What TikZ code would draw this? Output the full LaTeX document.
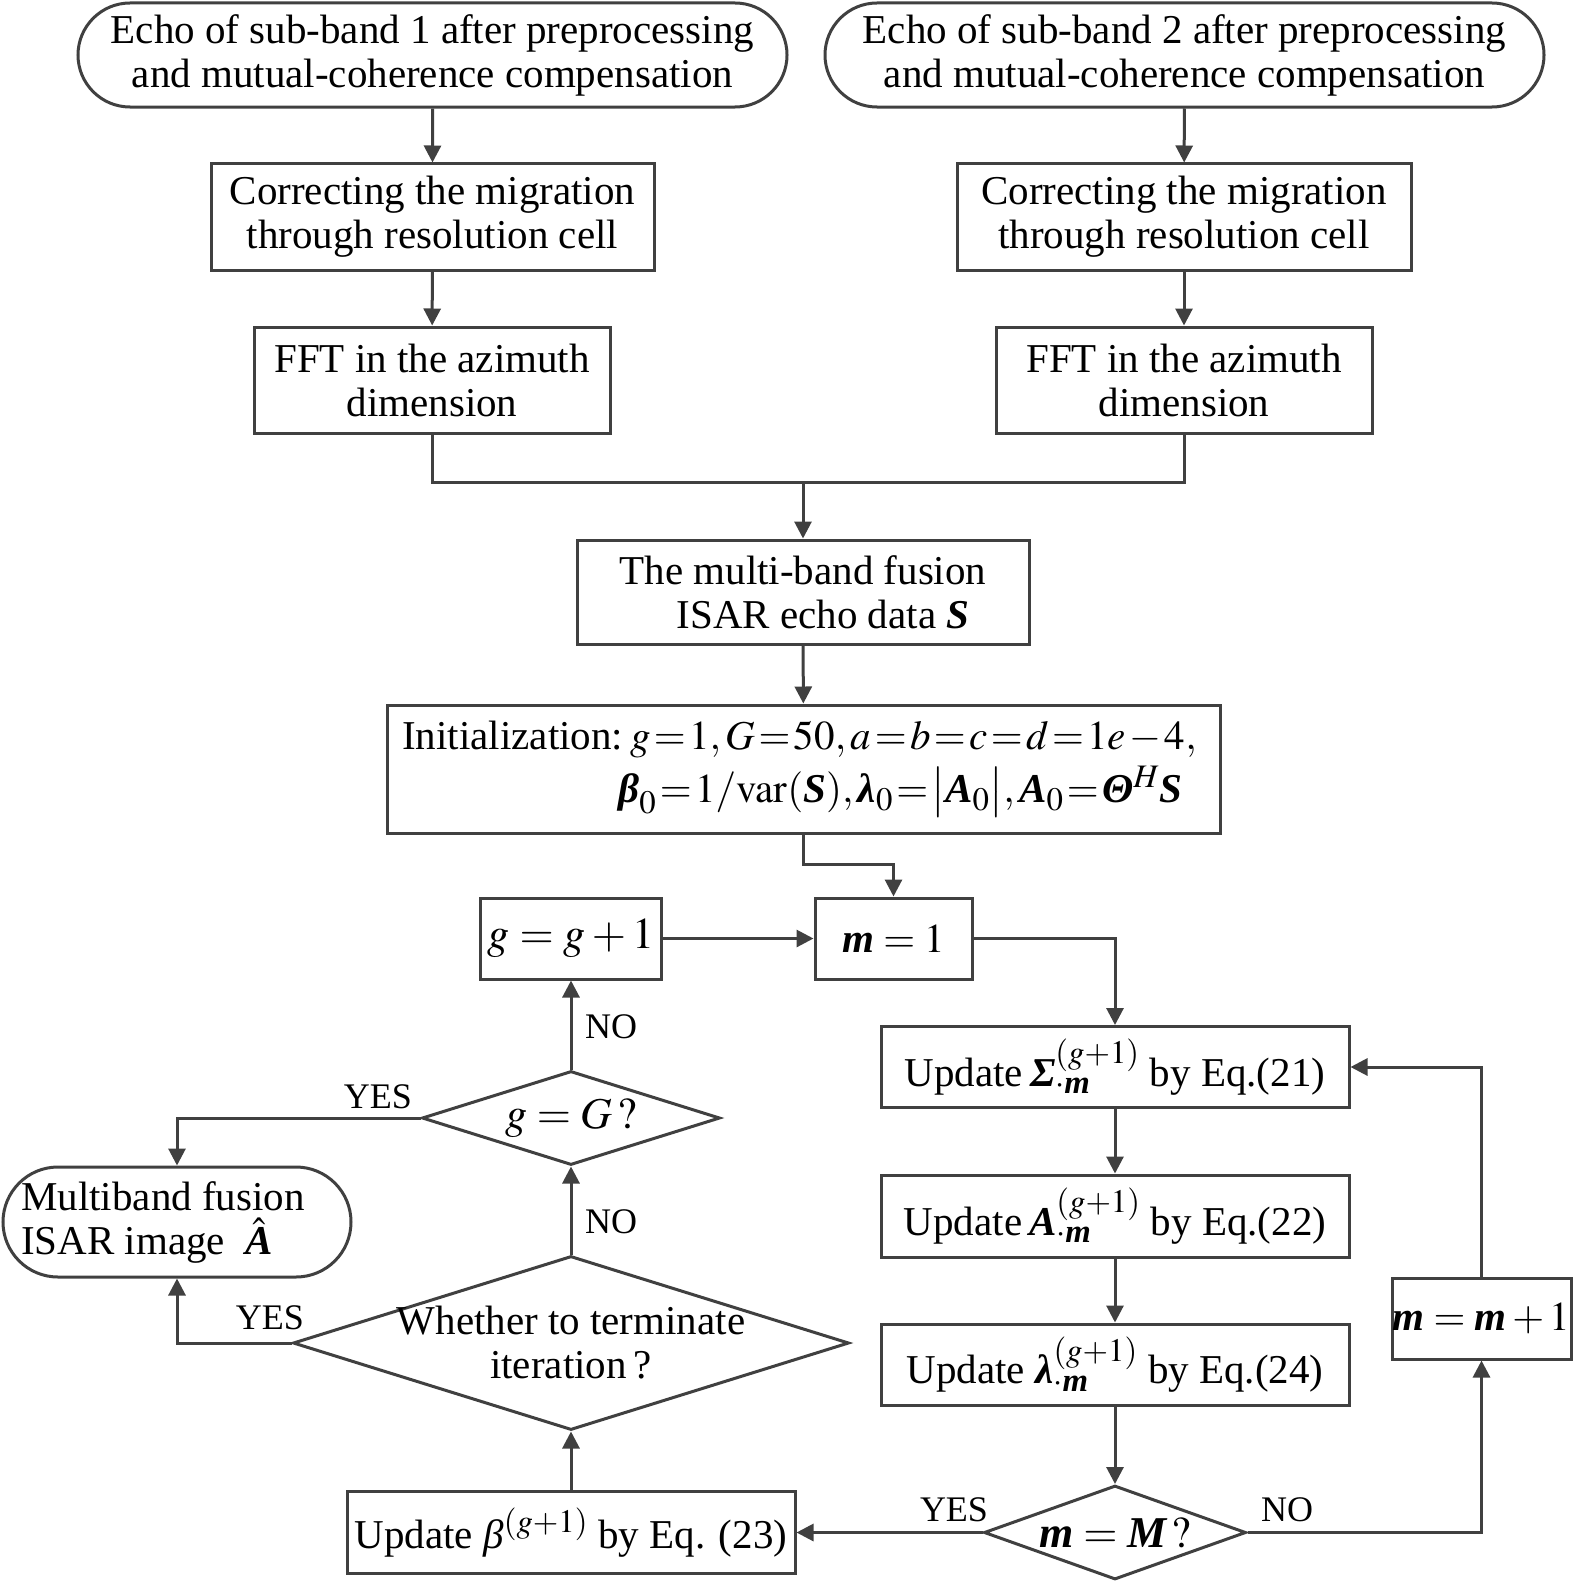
\documentclass[tikz,border=0pt]{standalone}
\usepackage{amsmath}
\usepackage{mathptmx}
\usepackage{fontspec}
\setmainfont{Liberation Serif}
\usetikzlibrary{shapes.geometric,shapes.misc,arrows.meta}
\definecolor{ln}{HTML}{404040}
\renewcommand{\defaultscriptratio}{.8}
\newcommand{\bfit}[1]{\text{\bfseries\itshape #1}}
\begin{document}
\begin{tikzpicture}[x=1bp,y=-1bp,line width=3bp,
  font=\fontsize{41bp}{44bp}\selectfont,
  box/.style={draw=ln,rectangle,inner sep=0pt,align=center},
  term/.style={draw=ln,rounded rectangle,inner sep=0pt,align=center},
  dia/.style={draw=ln,diamond,inner sep=0pt,aspect=1},
  arr/.style={draw=ln,-{Triangle[length=17bp,width=17bp]}},
  lab/.style={font=\fontsize{36bp}{40bp}\selectfont,inner sep=0pt},
  big/.style={font=\fontsize{44bp}{48bp}\selectfont}]
\useasboundingbox (0,0) rectangle (1576,1582);
% top branch
\node[term,minimum width=709bp,minimum height=104bp] (t1) at (432.5,55) {Echo of sub-band 1 after preprocessing\\and mutual-coherence compensation};
\node[term,minimum width=719bp,minimum height=104bp] (t2) at (1184.5,55) {Echo of sub-band 2 after preprocessing\\and mutual-coherence compensation};
\node[box,minimum width=443bp,minimum height=106bp] (c1) at (432.5,217) {Correcting the migration\\through resolution cell};
\node[box,minimum width=454bp,minimum height=106bp] (c2) at (1184,217) {Correcting the migration\\through resolution cell};
\node[box,minimum width=356bp,minimum height=106bp] (f1) at (432,380) {FFT in the azimuth\\dimension};
\node[box,minimum width=376bp,minimum height=106bp] (f2) at (1184,380) {FFT in the azimuth\\dimension};
\coordinate (merge) at (803,482);
\node[box,minimum width=452bp,minimum height=104bp] (fus) at (803,592) {The multi-band fusion\\\hspace*{40bp}ISAR echo data $\bfit{S}$};
\node[box,minimum width=833bp,minimum height=128bp,align=right,
  execute at begin node={\thickmuskip=1.5mu\medmuskip=1.5mu}] (init) at (803.5,769) {Initialization:\,$g=1,G=50,a=b=c=d=1e-4,$\hspace*{8bp}\\[8bp]$\bfit{β}_0=1/\mathrm{var}(\bfit{S}),\bfit{λ}_0=\bigl|\bfit{A}_0\bigr|,\bfit{A}_0=\bfit{Θ}^{H}\bfit{S}$\hspace*{22bp}};
% loop
\node[box,big,minimum width=181bp,minimum height=81bp] (gg) at (571,938.5) {$g=g+1$};
\node[box,minimum width=157bp,minimum height=81bp] (m1) at (893.5,938.5) {$\bfit{m}=1$};
\node[box,minimum width=468bp,minimum height=81bp] (us) at (1115,1067) {Update\,$\bfit{Σ}^{(g+1)}_{\cdot\bfit{m}}$ by Eq.(21)};
\node[box,minimum width=468bp,minimum height=82bp] (ua) at (1115,1216) {Update\,$\bfit{A}^{(g+1)}_{\cdot\bfit{m}}$ by Eq.(22)};
\node[box,minimum width=468bp,minimum height=81bp] (ul) at (1115,1364.5) {Update $\bfit{λ}^{(g+1)}_{\cdot\bfit{m}}$ by Eq.(24)};
\node[dia,minimum width=262bp,minimum height=94bp,label={[big]center:$\bfit{m}=\bfit{M}\,?$}] (mM) at (1115,1532.5) {};
\node[box,minimum width=179bp,minimum height=81bp] (mm1) at (1481.5,1318.5) {$\bfit{m}=\bfit{m}+1$};
\node[box,minimum width=448bp,minimum height=82bp] (ub) at (571,1532.5) {Update $\textit{β}^{(g+1)}$ by Eq. (23)};
\node[dia,minimum width=556bp,minimum height=174bp,label={[align=center]center:Whether to terminate\\iteration\,?}] (wt) at (571,1343) {};
\node[dia,minimum width=298bp,minimum height=94bp,label={[big]center:$g=G\,?$}] (gG) at (571,1118) {};
\node[term,minimum width=348bp,minimum height=110bp,label={[align=left,xshift=-14bp]center:Multiband fusion\\ISAR image\enspace$\hat{\bfit{A}}$}] (mb) at (177,1222) {};
% connectors
\draw[arr] (t1) -- (c1);
\draw[arr] (c1) -- (f1);
\draw[arr] (t2) -- (c2);
\draw[arr] (c2) -- (f2);
\draw[draw=ln] (f1.south) |- (merge) -| (f2.south);
\draw[arr] (merge) -- (fus.north);
\draw[arr] (fus) -- (init);
\draw[arr] (init.south) -- ++(0,30) -| (m1.north);
\draw[arr] (gg) -- (m1);
\draw[arr] (m1.east) -| (us.north);
\draw[arr] (us) -- (ua);
\draw[arr] (ua) -- (ul);
\draw[arr] (ul.south) -- (mM.north);
\draw[arr] (mM.east) -| (mm1.south);
\draw[arr] (mm1.north) |- (us.east);
\draw[arr] (mM.west) -- (ub.east);
\draw[arr] (ub.north) -- (wt.south);
\draw[arr] (wt.north) -- (gG.south);
\draw[arr] (gG.north) -- (gg.south);
\draw[arr] (gG.west) -| (mb.north);
\draw[arr] (wt.west) -| (mb.south);
% labels
\node[lab] (l1) at (611,1027) {NO};
\node[lab] (l2) at (378,1097) {YES};
\node[lab] (l3) at (611,1222) {NO};
\node[lab] (l4) at (270,1318) {YES};
\node[lab] (l5) at (954,1510) {YES};
\node[lab] (l6) at (1287,1510) {NO};
\end{tikzpicture}
\end{document}
